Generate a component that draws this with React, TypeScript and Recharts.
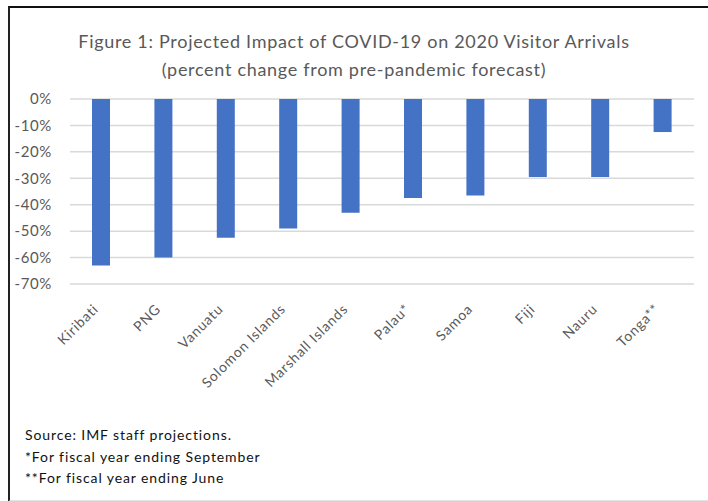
import React from "react";
import { Bar, BarChart, CartesianGrid, XAxis, YAxis } from "recharts";

const countries = [
  "Kiribati",
  "PNG",
  "Vanuatu",
  "Solomon Islands",
  "Marshall Islands",
  "Palau*",
  "Samoa",
  "Fiji",
  "Nauru",
  "Tonga**",
];
const changePct = [-63, -60, -52.5, -49, -43, -37.5, -36.5, -29.5, -29.5, -12.5];
const yTicks = [0, -10, -20, -30, -40, -50, -60, -70];

const titleLines = [
  "Figure 1: Projected Impact of COVID-19 on 2020 Visitor Arrivals",
  "(percent change from pre-pandemic forecast)",
];
const notes = [
  "Source: IMF staff projections.",
  "*For fiscal year ending September",
  "**For fiscal year ending June",
];

const data = countries.map((country, i) => ({ country, value: changePct[i] }));

const FONT = "Lato, 'Open Sans', sans-serif";
const GREY = "#595959";

function CountryTick(props: any) {
  const { x, y, payload } = props;
  const ax = x - 2;
  const ay = y + 18;
  return (
    <text
      x={ax}
      y={ay}
      transform={`rotate(-45 ${ax} ${ay})`}
      textAnchor="end"
      fill={GREY}
      fontSize={14}
      letterSpacing={0.8}
      fontFamily={FONT}
    >
      {payload.value}
    </text>
  );
}

export default function App() {
  return (
    <div
      style={{
        position: "absolute",
        left: 0,
        top: 0,
        width: 708,
        height: 501,
        background: "#fff",
        overflow: "hidden",
        fontFamily: FONT,
      }}
    >
      {/* chart frame */}
      <div
        style={{
          position: "absolute",
          left: 8,
          top: 6,
          width: 710,
          height: 492,
          borderLeft: "2px solid #222",
          borderTop: "2px solid #111",
          borderBottom: "2px solid #e3e3e3",
        }}
      />
      <div
        style={{
          position: "absolute",
          left: 0,
          top: 27,
          width: 708,
          textAlign: "center",
          color: GREY,
          fontSize: 18,
          letterSpacing: 0.7,
          lineHeight: "28px",
        }}
      >
        {titleLines.map((t) => (
          <div key={t}>{t}</div>
        ))}
      </div>
      <div style={{ position: "absolute", left: 0, top: 0 }}>
        <BarChart
          width={708}
          height={501}
          data={data}
          margin={{ top: 99, right: 14, bottom: 107, left: 0 }}
          barSize={18}
        >
          <CartesianGrid vertical={false} stroke="#d9d9d9" strokeWidth={1.5} />
          <XAxis
            dataKey="country"
            interval={0}
            height={110}
            axisLine={false}
            tickLine={false}
            tick={<CountryTick />}
          />
          <YAxis
            width={70}
            domain={[-70, 0]}
            ticks={yTicks}
            interval={0}
            axisLine={false}
            tickLine={false}
            tickSize={0}
            tickMargin={18}
            tickFormatter={(v) => `${v}%`}
            tick={{ fill: GREY, fontSize: 15, fontFamily: FONT, letterSpacing: 0.6 }}
          />
          <Bar dataKey="value" fill="#4472C4" isAnimationActive={false} />
        </BarChart>
      </div>
      <div
        style={{
          position: "absolute",
          left: 25,
          top: 424,
          color: "#111",
          fontSize: 14,
          letterSpacing: 0.9,
          lineHeight: "21.5px",
        }}
      >
        {notes.map((n) => (
          <div key={n}>{n}</div>
        ))}
      </div>
    </div>
  );
}
